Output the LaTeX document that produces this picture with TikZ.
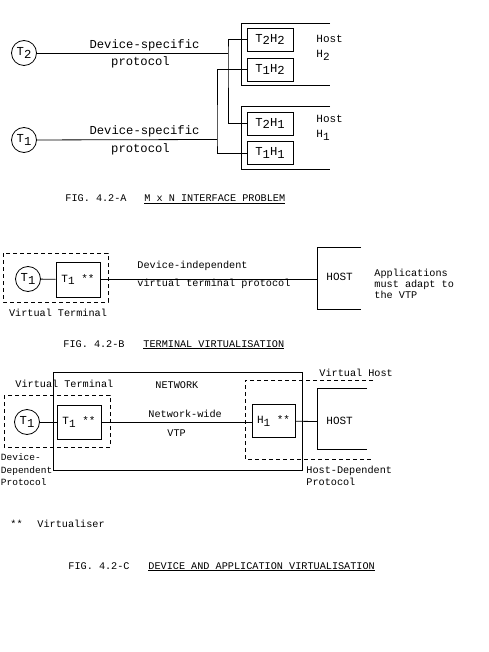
\documentclass[tikz,border=0pt]{standalone}
\usepackage{fontspec}
\setmainfont{Liberation Mono}
\newcommand\lo[1]{\raisebox{-0.45ex}{#1}}
\newcommand\fsA{\fontsize{12.2}{14}\selectfont}
\newcommand\fsB{\fontsize{10.2}{12.2}\selectfont}
\newcommand\fsS{\fontsize{9.5}{12}\selectfont}
\newcommand\fsH{\fontsize{11}{13}\selectfont}
\begin{document}
\begin{tikzpicture}[x=1pt,y=-1pt,line width=0.8pt,
  lbl/.style={inner sep=0,font=\fsB},
  lblA/.style={inner sep=0,font=\fsA},
  term/.style={circle,draw,minimum size=25pt,inner sep=0,font=\fsA},
  hbox/.style={draw,minimum width=46pt,minimum height=23pt,inner sep=0,font=\fsA},
  vbox/.style={draw,minimum width=44pt,minimum height=34pt,inner sep=0,font=\fsH},
  dsh/.style={dash pattern=on 4pt off 3pt},
  figcap/.style={inner sep=0,font=\fsB,anchor=base west}]
\useasboundingbox (0,0) rectangle (489,652);

% ---------------- Fig A ----------------
\node[term] (T2) at (24,53) {T\lo{2}};
\node[term] (T1) at (24,140) {T\lo{1}};
\draw (330,23) -- (241,23) -- (241,85) -- (330,85);
\draw (330,106) -- (241,106) -- (241,169) -- (330,169);
\node[hbox] (T2H2) at (270,39.5) {T\lo{2}H\lo{2}};
\node[hbox] (T1H2) at (270,69.5) {T\lo{1}H\lo{2}};
\node[hbox] (T2H1) at (270,123.5) {T\lo{2}H\lo{1}};
\node[hbox] (T1H1) at (270,153) {T\lo{1}H\lo{1}};
\coordinate (a2) at (228,53);
\coordinate (a1) at (217,139.5);
\draw (T2) -- (a2);
\draw (T2H2.west) -| (a2) |- (T2H1.west);
\draw (T1) -- (a1);
\draw (T1H2.west) -| (a1) |- (T1H1.west);
\node[lblA,anchor=base] (ds2) at (144.5,49) {Device-specific};
\node[lblA,anchor=base] (pr2) at (140.5,65.5) {protocol};
\node[lblA,anchor=base] (ds1) at (144.5,135) {Device-specific};
\node[lblA,anchor=base] (pr1) at (140.5,152.5) {protocol};
\node[inner sep=0,font=\fsH,anchor=base west] (h2a) at (316,43) {Host};
\node[inner sep=0,font=\fsH,anchor=base west] (h2b) at (316,58) {H\lo{2}};
\node[inner sep=0,font=\fsH,anchor=base west] (h1a) at (316,123) {Host};
\node[inner sep=0,font=\fsH,anchor=base west] (h1b) at (316,138) {H\lo{1}};
\node[figcap] (capA1) at (65,201.5) {FIG. 4.2-A};
\node[figcap] (capA2) at (144,201.5) {\underline{M x N INTERFACE PROBLEM}};

% ---------------- Fig B ----------------
\draw[dsh] (3,253) rectangle (108,302);
\node[term] (TB) at (28,279) {T\lo{1}};
\node[vbox,minimum height=35pt] (TBv) at (78,279.5) {T\lo{1} **};
\draw (361,247) -- (317,247) -- (317,309) -- (361,309);
\coordinate (hostB) at (317,277);
\draw (TB) -- (TBv);
\draw (TBv.east) -- (TBv.east -| hostB);
\node[lbl,anchor=base west] (di) at (137,268) {Device-independent};
\node[lbl,anchor=base west] (vtp) at (137,286) {virtual terminal protocol};
\node[inner sep=0,font=\fsH,anchor=base west] (hB) at (326,280) {HOST};
\node[lbl,anchor=base west] (ap1) at (374,276) {Applications};
\node[lbl,anchor=base west] (ap2) at (374,287) {must adapt to};
\node[lbl,anchor=base west] (ap3) at (374,298) {the VTP};
\node[lbl,anchor=base] (vtB) at (58,316.5) {Virtual Terminal};
\node[figcap] (capB1) at (63,347) {FIG. 4.2-B};
\node[figcap] (capB2) at (143,347) {\underline{TERMINAL VIRTUALISATION}};

% ---------------- Fig C ----------------
\draw (53,372) rectangle (302,470);
\draw[dsh] (4,395) rectangle (110,447);
\draw[dsh] (373,380) -- (245,380) -- (245,459) -- (373,459);
\node[term] (TC) at (27,422) {T\lo{1}};
\node[vbox] (TCv) at (79,422) {T\lo{1} **};
\node[vbox,minimum width=43pt,minimum height=33pt] (HC) at (273.5,421) {H\lo{1} **};
\draw (367,388) -- (317,388) -- (317,449) -- (367,449);
\coordinate (hostC) at (317,421.5);
\draw (TC) -- (TCv);
\draw (TCv.east) -- (TCv.east -| HC.west);
\draw (HC) -- (hostC);
\node[lbl,anchor=base west] (vtC) at (15,387.5) {Virtual Terminal};
\node[lbl,anchor=base west] (net) at (155,388) {NETWORK};
\node[lbl,anchor=base west] (vh) at (319,376.5) {Virtual Host};
\node[lbl,anchor=base west] (nw1) at (148,417.5) {Network-wide};
\node[lbl,anchor=base west] (nw2) at (167,436) {VTP};
\node[inner sep=0,font=\fsH,anchor=base west] (hC) at (326,424.5) {HOST};
\node[lbl,anchor=base west] (hd1) at (306,473.5) {Host-Dependent};
\node[lbl,anchor=base west] (hd2) at (306,485.5) {Protocol};
\node[inner sep=0,font=\fsS,anchor=base west] (dd1) at (0.5,460.5) {Device-};
\node[inner sep=0,font=\fsS,anchor=base west] (dd2) at (0.5,473.5) {Dependent};
\node[inner sep=0,font=\fsS,anchor=base west] (dd3) at (0.5,485.5) {Protocol};
\node[lbl,anchor=base west] (st) at (10,527) {**};
\node[lbl,anchor=base west] (virt) at (37,527) {Virtualiser};
\node[figcap] (capC1) at (68,569) {FIG. 4.2-C};
\node[figcap] (capC2) at (148,569) {\underline{DEVICE AND APPLICATION VIRTUALISATION}};
\end{tikzpicture}
\end{document}
